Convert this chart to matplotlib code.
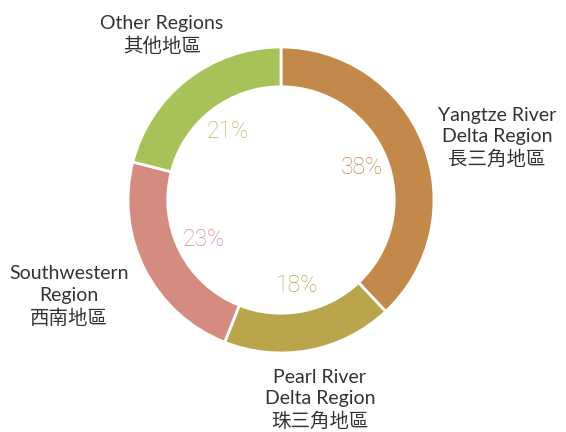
import numpy as np
import matplotlib
matplotlib.use("Agg")
import matplotlib.pyplot as plt

plt.rcParams['font.family'] = ['Lato', 'Noto Sans CJK TC', 'DejaVu Sans']

regions = ["Yangtze River\nDelta Region\n長三角地區",
           "Pearl River\nDelta Region\n珠三角地區",
           "Southwestern\nRegion\n西南地區",
           "Other Regions\n其他地區"]
shares = [38, 18, 23, 21]
colors = ["#C2894B", "#BBA54C", "#D68B81", "#A7C258"]

# label placement (radius, angle tweak in degrees) per slice
label_r = [1.47, 1.33, 1.52, 1.33]
label_dtheta = [-5.4, 0.2, -2.6, -2.0]

W, H = 566, 432
cx, cy, R = 281, 200, 153

fig = plt.figure(figsize=(W / 100, H / 100), dpi=100)
ax = fig.add_axes([0, 0, 1, 1])

wedges, texts, autotexts = ax.pie(
    shares, colors=colors, startangle=90, counterclock=False,
    labels=regions, labeldistance=1.4,
    autopct='%d%%', pctdistance=0.57,
    wedgeprops=dict(width=0.26, edgecolor='white', linewidth=2),
    textprops=dict(fontsize=14, color='#333333'))

for w, t, r, dt in zip(wedges, texts, label_r, label_dtheta):
    ang = np.deg2rad((w.theta1 + w.theta2) / 2 + dt)
    t.set_position((r * np.cos(ang), r * np.sin(ang)))
    t.set_ha('center')
    t.set_va('center')
    t.set_multialignment('center')
    t.set_linespacing(1.3)

for a, c in zip(autotexts, colors):
    a.set_color(c)
    a.set_fontsize(16.5)
    a.set_family(['Roboto', 'DejaVu Sans'])
    a.set_fontweight('light')

ax.set_xlim(-cx / R, (W - cx) / R)
ax.set_ylim(-(H - cy) / R, cy / R)
ax.set_aspect('auto')
ax.axis('off')

fig.savefig("out.png", dpi=100)
